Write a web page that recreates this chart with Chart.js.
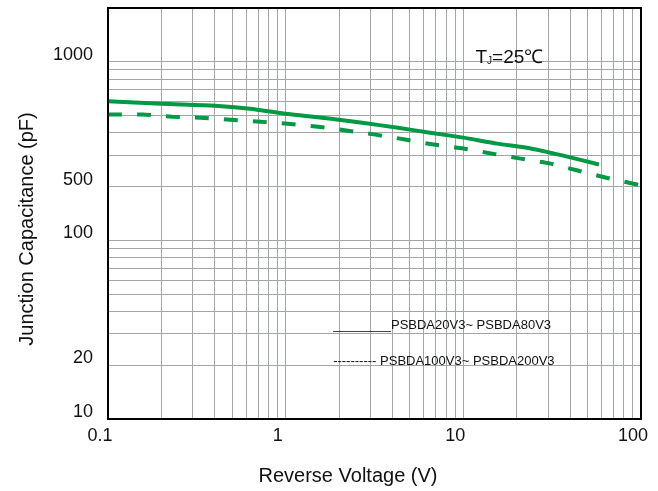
<!DOCTYPE html>
<html>
<head>
<meta charset="utf-8">
<script src="https://cdn.jsdelivr.net/npm/chart.js@4.4.1/dist/chart.umd.min.js"></script>
<style>
  html, body { margin: 0; padding: 0; background: #fff; }
</style>
</head>
<body>
<canvas id="capChart" width="658" height="491"></canvas>
<script>
// Reverse voltage (V) / junction capacitance
const solidVoltage = [0.1, 0.2, 0.4, 0.63, 1, 1.8, 2.7, 4.2, 6.5, 10, 15.5, 24, 36, 58];
const solidCap = [602, 582, 568, 546, 512, 480, 456, 428, 401, 376, 348, 327, 299, 266];

const dashedVoltage = [0.1, 0.157, 0.23, 0.33, 0.49, 0.72, 1.03, 1.52, 2.2, 3.2, 4.7, 6.8, 10, 14.5, 21, 31, 44, 63, 100];
const dashedCap = [506, 506, 493, 486, 474, 462, 450, 433, 412, 391, 367, 344, 327, 306, 287, 269, 246, 225, 203];

const voltageTicks = [0.1, 1, 10, 100];
const capTickValues = [10, 20, 100, 200, 1000];
const capTickLabels = ["10", "20", "100", "500", "1000"];

const seriesNames = ["________PSBDA20V3~ PSBDA80V3", "---------- PSBDA100V3~ PSBDA200V3"];
const xTitle = "Reverse Voltage (V)";
const yTitle = "Junction Capacitance (pF)";

const FONT = "'Liberation Sans', Arial, sans-serif";
const GREEN = "#009944";
const GRID = "#a3a7a3";

const logGrid = (from, to) => {
  const values = [];
  for (let decade = from; decade < to * 0.999; decade *= 10) {
    for (let m = 1; m < 10; m++) {
      values.push(+(m * decade).toPrecision(6));
    }
  }
  values.push(to);
  return values;
};

const sameValue = (a, b) => Math.abs(a - b) < Math.abs(b) * 1e-6;

const toPoints = (xs, ys) => xs.map((x, i) => ({ x, y: ys[i] }));

const framePlugin = {
  id: "frame",
  afterDatasetsDraw(chart) {
    const { ctx, chartArea: area, scales } = chart;
    ctx.save();
    ctx.strokeStyle = "#000";
    ctx.lineWidth = 2;
    ctx.strokeRect(area.left, area.top, area.right - area.left, area.bottom - area.top);

    // temperature note
    ctx.fillStyle = "#111";
    ctx.textBaseline = "alphabetic";
    let x = scales.x.getPixelForValue(11.7);
    const y = scales.y.getPixelForValue(1000) + 1;
    ctx.font = `19px ${FONT}`;
    ctx.fillText("T", x, y);
    x += ctx.measureText("T").width;
    ctx.font = `10px ${FONT}`;
    ctx.fillText("J", x, y + 1);
    x += ctx.measureText("J").width;
    ctx.font = `19px ${FONT}`;
    ctx.fillText("=25℃", x, y);

    // series key
    ctx.font = `13px ${FONT}`;
    const keyX = scales.x.getPixelForValue(1.85);
    ctx.fillText(seriesNames[0], keyX, scales.y.getPixelForValue(32));
    ctx.fillText(seriesNames[1], keyX, scales.y.getPixelForValue(20));

    // axis titles (sit a bit off the plot centre in the original)
    ctx.font = `20px ${FONT}`;
    ctx.textAlign = "center";
    ctx.textBaseline = "middle";
    ctx.fillText(xTitle, 348, 476);
    ctx.translate(27, 229);
    ctx.rotate(-Math.PI / 2);
    ctx.fillText(yTitle, 0, 0);
    ctx.restore();
  }
};

new Chart(document.getElementById("capChart"), {
  type: "scatter",
  data: {
    datasets: [
      {
        data: toPoints(solidVoltage, solidCap),
        showLine: true,
        borderColor: GREEN,
        borderWidth: 4,
        pointRadius: 0,
        tension: 0.2
      },
      {
        data: toPoints(dashedVoltage, dashedCap),
        showLine: true,
        borderColor: GREEN,
        borderWidth: 4,
        borderDash: [14, 15],
        pointRadius: 0,
        tension: 0.2
      }
    ]
  },
  options: {
    responsive: false,
    animation: false,
    layout: { padding: { left: 0, top: 8, right: 17, bottom: 0 } },
    plugins: {
      legend: { display: false },
      tooltip: { enabled: false }
    },
    scales: {
      x: {
        type: "logarithmic",
        min: 0.1,
        max: 100,
        afterBuildTicks: (scale) => {
          scale.ticks = logGrid(0.1, 100).map((value) => ({ value }));
        },
        afterFit: (scale) => {
          scale.height = 72;
          scale.paddingLeft = 0;
          scale.paddingRight = 0;
        },
        border: { display: false },
        grid: { color: GRID, lineWidth: 1, drawTicks: false },
        ticks: {
          autoSkip: false,
          maxRotation: 0,
          padding: 6,
          labelOffset: -8,
          color: "#111",
          font: { family: FONT, size: 18 },
          callback: (value) => {
            const hit = voltageTicks.find((v) => sameValue(value, v));
            return hit === undefined ? "" : String(hit);
          }
        }
      },
      y: {
        type: "logarithmic",
        min: 10,
        max: 2000,
        afterBuildTicks: (scale) => {
          scale.ticks = logGrid(10, 1000).map((value) => ({ value }));
        },
        afterFit: (scale) => {
          scale.width = 108;
          scale.paddingTop = 0;
          scale.paddingBottom = 0;
        },
        border: { display: false },
        grid: { color: GRID, lineWidth: 1, drawTicks: false },
        ticks: {
          autoSkip: false,
          padding: 15,
          labelOffset: -7,
          color: "#111",
          font: { family: FONT, size: 18 },
          callback: (value) => {
            const index = capTickValues.findIndex((v) => sameValue(value, v));
            return index < 0 ? "" : capTickLabels[index];
          }
        }
      }
    }
  },
  plugins: [framePlugin]
});
</script>
</body>
</html>
